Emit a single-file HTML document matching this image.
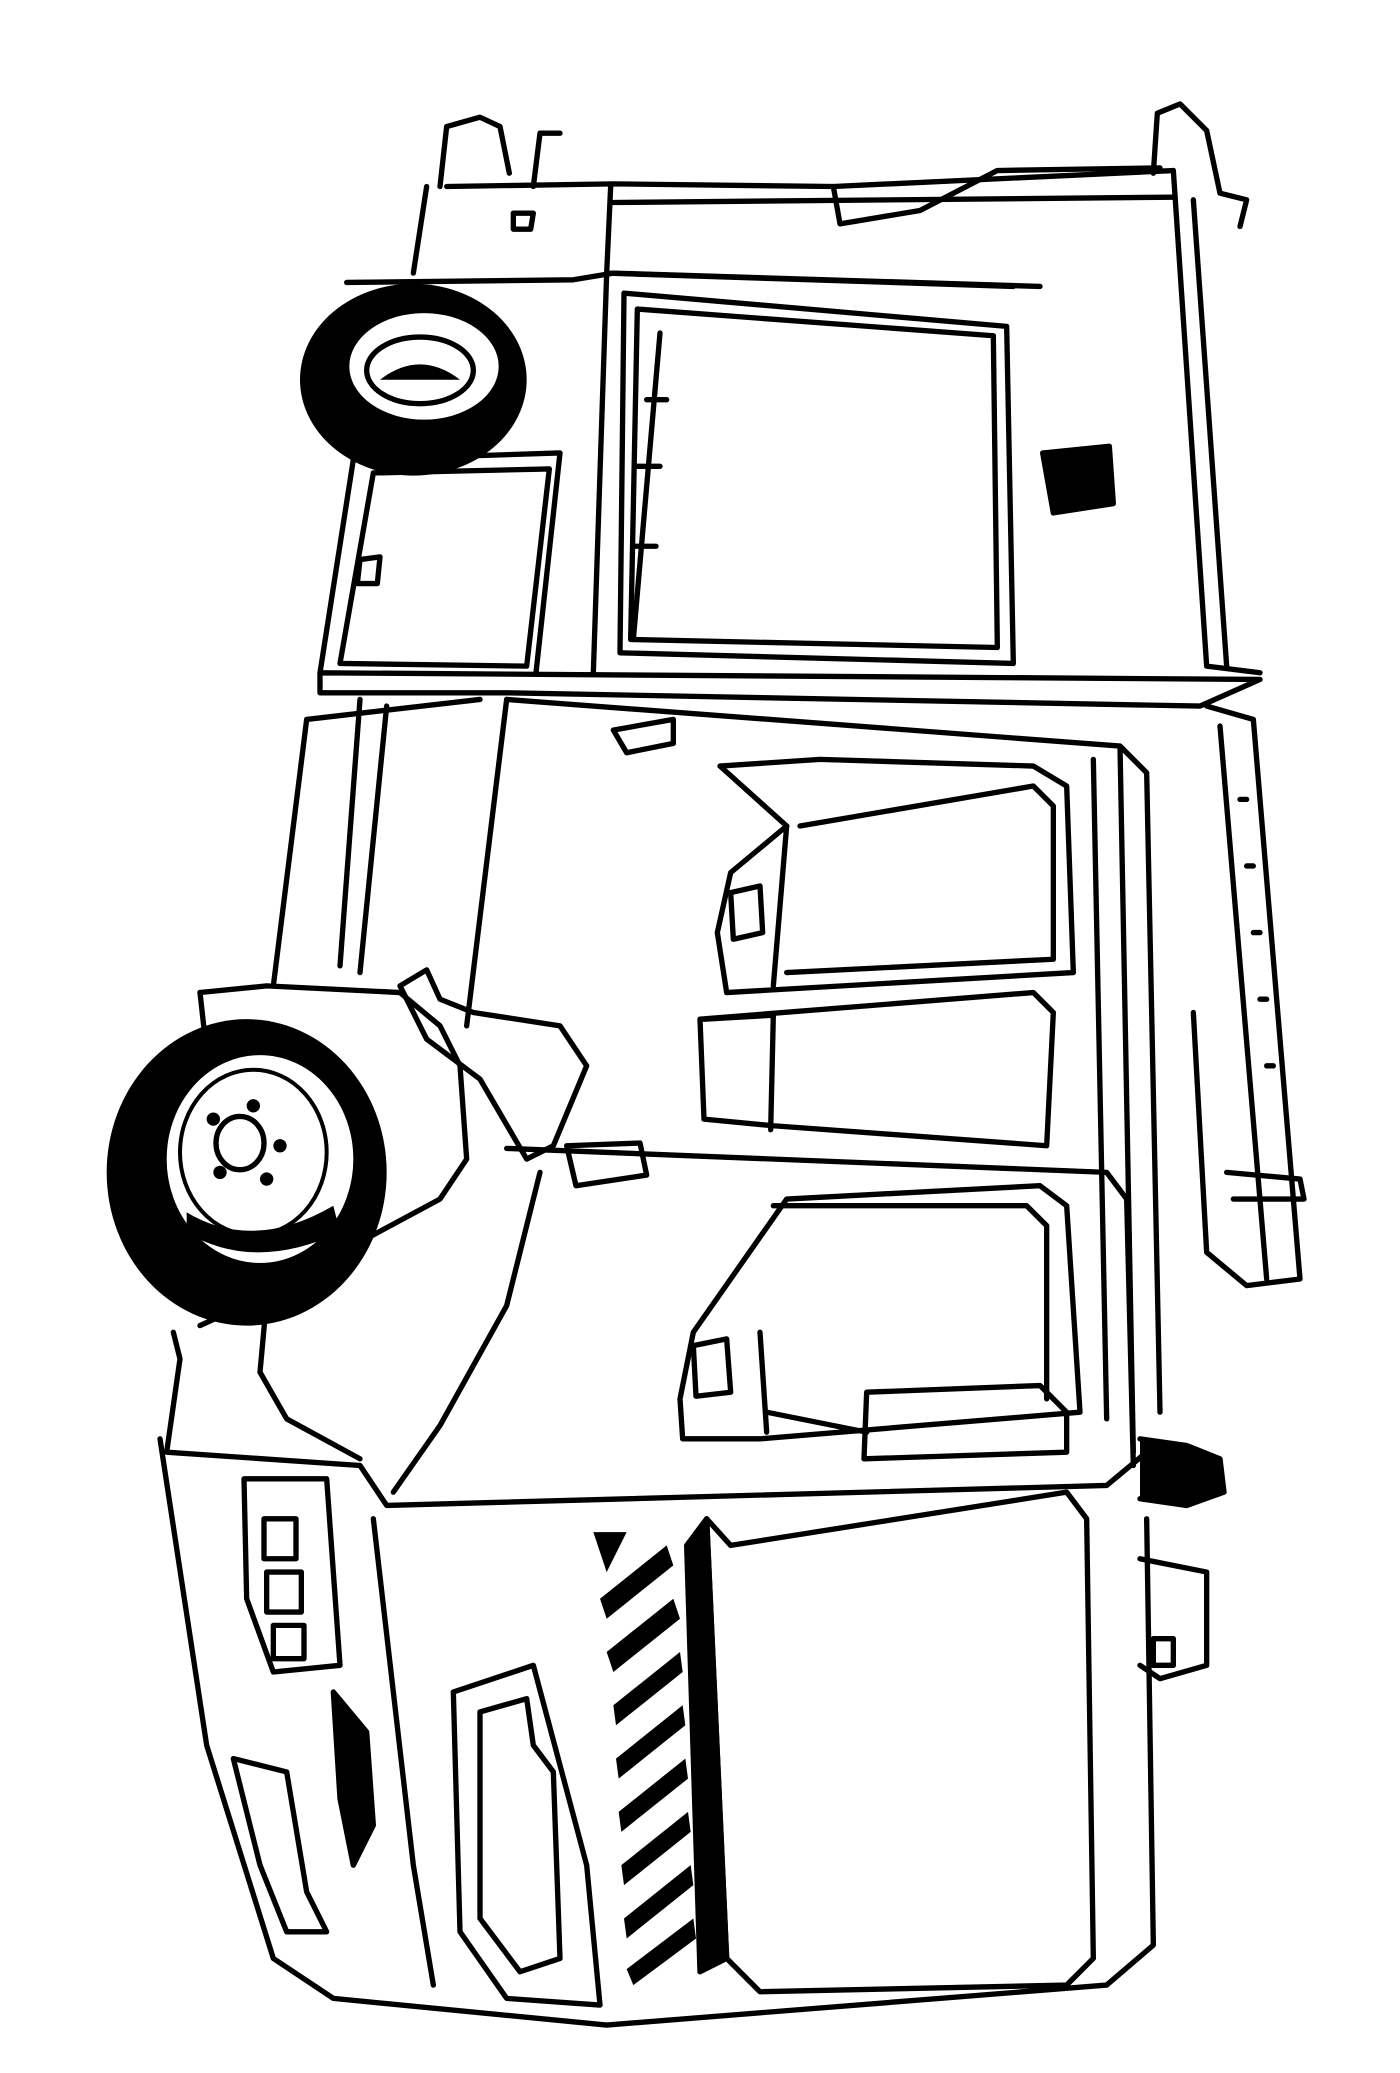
<!DOCTYPE html>
<html><head><meta charset="utf-8"><style>html,body{margin:0;padding:0;background:#fff}svg{display:block}</style></head>
<body>
<svg width="1400" height="2073" viewBox="0 0 1050 1556" preserveAspectRatio="none" xmlns="http://www.w3.org/2000/svg">
<g fill="none" stroke="#000" stroke-width="4" stroke-linejoin="round" stroke-linecap="round">
<!-- rear top posts -->
<path d="M330,140 L335,95 L360,88 L375,95 L382,130"/>
<path d="M865,130 L868,85 L885,78 L905,98 L915,145 L935,150 L930,170"/>
<!-- rear top box -->
<path d="M335,140 L460,138 L625,140 L880,128"/>
<path d="M625,140 L630,168 L690,158 L748,128 L870,126"/>
<path d="M458,140 L455,205 L445,505"/>
<path d="M320,140 L310,205"/>
<path d="M460,152 L880,148"/>
<path d="M880,128 L905,500 L945,505"/>
<path d="M895,150 L920,500"/>
<path d="M260,212 L430,210 L460,205 L780,215"/>
<path d="M455,205 L760,215"/>
<!-- rear window -->
<path d="M468,220 L755,245 L760,498 L465,490 Z"/>
<path d="M478,232 L745,252 L748,486 L473,480 Z"/>
<path d="M495,250 L475,480 M485,300 L500,300 M478,350 L495,350 M475,410 L492,410"/>
<path d="M782,340 L832,335 L835,378 L790,385 Z" fill="#000"/>
<!-- small door -->
<path d="M240,505 L265,345 L420,340 L402,505"/>
<path d="M255,498 L280,355 L412,352 L395,500 Z"/>
<path d="M270,420 L285,418 L283,438 L268,438 Z"/>
<path d="M240,505 L945,510 L900,530 L380,520 L240,520 Z"/>
<!-- rear side -->
<path d="M400,140 L405,100 L420,100 M385,160 L400,160 L398,172 L385,172 Z"/>
<!-- cab upper -->
<path d="M380,525 L350,770 M360,525 L230,540 L205,740"/>
<path d="M380,525 L840,560 L860,580 L870,1060"/>
<path d="M460,548 L505,540 L505,558 L470,565 Z"/>
<path d="M540,575 L615,570 L775,575 L800,590 L805,730 L545,745 L538,700 L548,655 L590,620 Z"/>
<path d="M590,620 L580,740 M600,620 L775,590 L790,605 L790,720 L590,730"/>
<path d="M548,670 L570,665 L572,700 L550,705 Z"/>
<path d="M525,765 L775,745 L790,760 L785,860 L580,845 L528,840 Z"/>
<path d="M528,765 L580,762 L578,848"/>
<path d="M840,560 L850,1090 M820,570 L830,1065"/>
<path d="M270,525 L255,725 M290,530 L270,730"/>
<path d="M300,740 L320,728 L330,750 L355,760 L420,770 L440,800 L415,860 L395,870 L360,810 L320,780 Z"/>
<!-- right ladder -->
<path d="M905,530 L940,540 L975,960 L935,965 L905,940 L895,760"/>
<path d="M915,545 L950,960 M930,600 L935,600 M935,650 L940,650 M940,700 L945,700 M945,750 L950,750 M950,800 L955,800"/>
<path d="M920,880 L975,885 L978,900 L925,900"/>
<!-- cab lower -->
<path d="M150,745 L200,740 L300,745 L330,770 L345,800 L350,870 L330,900 L265,935 L205,970 L150,995"/>
<path d="M150,745 L155,790"/>
<path d="M380,862 L830,880 L845,900 L850,1100"/>
<path d="M425,860 L480,858 L485,882 L432,890 Z"/>
<path d="M510,1050 L520,1000 L590,900 L780,890 L800,905 L810,1060 L570,1080 L512,1080 Z"/>
<path d="M570,1000 L575,1075 M580,905 L770,905 L785,920 L785,1050"/>
<path d="M520,1010 L545,1005 L548,1045 L522,1048 Z"/>
<path d="M650,1045 L780,1040 L800,1060 L800,1090 L648,1095 Z"/>
<path d="M575,1060 L650,1075"/>
<path d="M405,880 L380,980 L330,1070 L295,1120"/>
<path d="M200,975 L195,1030 L215,1065 L270,1095"/>
<path d="M130,1000 L135,1020 L125,1090 L270,1100 L290,1130 L830,1115 L860,1090"/>
<!-- right bumper bits -->
<path d="M855,1080 L890,1085 L915,1095 L918,1120 L890,1130 L855,1125" fill="#000"/>
<path d="M855,1170 L905,1180 L905,1250 L870,1260 L855,1250"/>
<path d="M865,1230 L880,1230 L880,1250 L865,1250 Z"/>
<!-- front face -->
<path d="M120,1080 L155,1310 L205,1470 L250,1500 L455,1520 L830,1490 L865,1460 L860,1140"/>
<path d="M280,1140 L310,1400 L325,1490"/>
<path d="M530,1140 L548,1160 L800,1120 L815,1140 L820,1470 L800,1490 L570,1495 L545,1470 Z"/>
<path d="M530,1140 L545,1470 L525,1480 L515,1160 Z" fill="#000"/>
<path d="M340,1270 L400,1250 L440,1400 L450,1505 L380,1500 L345,1450 Z"/>
<path d="M360,1285 L395,1275 L400,1310 L415,1330 L420,1470 L390,1480 L360,1440 Z"/>
<!-- headlights -->
<path d="M183,1110 L245,1110 L255,1250 L205,1255 L185,1200 Z"/>
<path d="M198,1140 L222,1140 L222,1170 L198,1170 Z M200,1180 L226,1180 L226,1210 L200,1210 Z M205,1220 L228,1220 L228,1245 L205,1245 Z"/>
<path d="M175,1320 L215,1330 L230,1420 L245,1450 L215,1450 L195,1400 Z"/>
<path d="M250,1270 L275,1300 L280,1370 L265,1400 L255,1350 Z" fill="#000"/>
</g>
<!-- wheels -->
<ellipse cx="310" cy="285" rx="85" ry="72" fill="#000"/>
<ellipse cx="318" cy="275" rx="58" ry="42" fill="#fff" stroke="#000" stroke-width="4"/>
<ellipse cx="315" cy="278" rx="40" ry="25" fill="none" stroke="#000" stroke-width="4"/>
<path d="M285,285 Q315,262 345,285 Z" fill="#000"/>
<ellipse cx="185" cy="880" rx="105" ry="115" fill="#000"/>
<ellipse cx="195" cy="870" rx="72" ry="80" fill="#fff" stroke="#000" stroke-width="4"/>
<ellipse cx="190" cy="865" rx="55" ry="62" fill="none" stroke="#000" stroke-width="3"/>
<ellipse cx="180" cy="858" rx="18" ry="20" fill="none" stroke="#000" stroke-width="4"/>
<g fill="#000"><circle cx="160" cy="840" r="5"/><circle cx="190" cy="830" r="5"/><circle cx="210" cy="860" r="5"/><circle cx="200" cy="885" r="5"/><circle cx="165" cy="880" r="5"/></g>
<path d="M140,910 Q190,940 250,905 L255,925 Q190,955 140,925 Z" fill="#000"/>
<!-- hazard stripes -->
<g fill="#000">
<path d="M445,1150 L470,1150 L455,1180 Z"/>
<path d="M450,1200 L500,1160 L505,1175 L455,1215 Z"/>
<path d="M455,1240 L505,1200 L510,1215 L460,1255 Z"/>
<path d="M460,1280 L510,1240 L512,1255 L462,1295 Z"/>
<path d="M462,1320 L512,1280 L514,1295 L464,1335 Z"/>
<path d="M464,1360 L514,1320 L516,1335 L466,1375 Z"/>
<path d="M466,1400 L516,1360 L518,1375 L468,1415 Z"/>
<path d="M468,1440 L518,1400 L520,1415 L470,1455 Z"/>
<path d="M470,1478 L520,1440 L522,1455 L475,1490 Z"/>
</g>
</svg>
</body></html>
